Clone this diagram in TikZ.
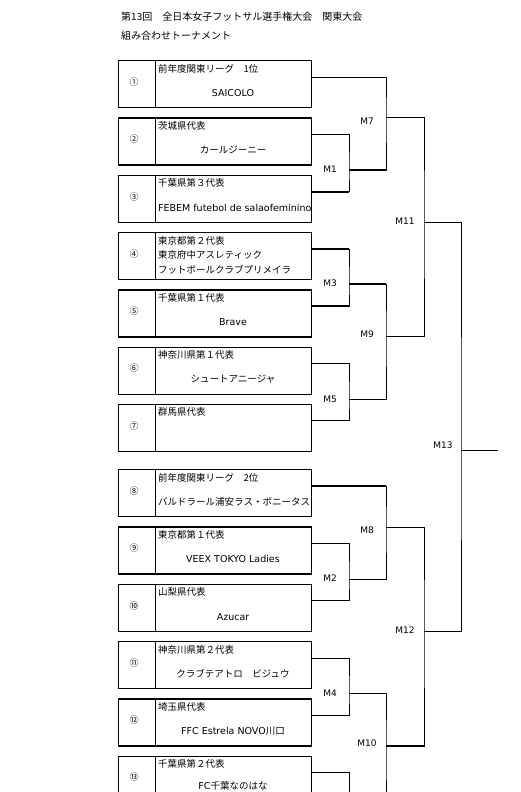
\documentclass[tikz,border=0pt]{standalone}
\usepackage{fontspec}
\setmainfont{Noto Sans CJK JP}
\newfontfamily\latinfont{DejaVu Sans}
\begin{document}
\begin{tikzpicture}[x=1pt,y=-1pt,
        teambox/.style={draw,line width=1.4pt,minimum width=193pt,minimum height=47pt,anchor=north west,inner sep=0pt},
        bracket/.style={line width=0.8pt},
        winline/.style={line width=1.8pt},
        numtext/.style={inner sep=0pt,font=\fontsize{9}{9}\selectfont},
        labtext/.style={anchor=west,inner sep=0pt,font=\fontsize{9.5}{9.5}\selectfont},
        teamtext/.style={inner sep=0pt,font=\fontsize{9.5}{9.5}\selectfont},
        mlabel/.style={inner sep=0pt,font=\fontsize{9}{9}\latinfont}]
    \useasboundingbox (0,0) rectangle (521,792);
    \node[labtext,font=\fontsize{10}{10}\selectfont] (title) at (121,17) {第13回　全日本女子フットサル選手権大会　関東大会};
    \node[labtext,font=\fontsize{10}{10}\selectfont] (subtitle) at (121,36) {組み合わせトーナメント};
    \foreach \i/\y/\num/\lab in {1/60/①/前年度関東リーグ　1位, 2/117.3/②/茨城県代表,
            3/174.6/③/千葉県第３代表, 4/231.9/④/東京都第２代表, 5/289.2/⑤/千葉県第１代表,
            6/346.5/⑥/神奈川県第１代表, 7/403.8/⑦/群馬県代表, 8/469/⑧/前年度関東リーグ　2位,
            9/526.3/⑨/東京都第１代表, 10/583.6/⑩/山梨県代表, 11/640.9/⑪/神奈川県第２代表,
            12/698.2/⑫/埼玉県代表, 13/755.5/⑬/千葉県第２代表} {
        \node[teambox] (b\i) at (118,\y) {};
        \draw[bracket] (155,\y) -- (155,\y+47);
        \node[numtext] (n\i) at (134,\y+22) {\num};
        \node[labtext] (l\i) at (158,\y+8.5) {\lab};
        \coordinate (o\i) at (311,\y+17);
    }
    \node[teamtext] (t1) at (233,93) {\latinfont SAICOLO};
    \node[teamtext] (t2) at (233,150.3) {カールジーニー};
    \begin{scope}
        \clip (156,175) rectangle (310,221);
        \node[labtext] (t3) at (158,207.6) {\latinfont FEBEM futebol de salaofeminino};
    \end{scope}
    \node[labtext] (t4a) at (158,255) {東京府中アスレティック};
    \node[labtext] (t4b) at (158,270) {フットボールクラブプリメイラ};
    \node[teamtext] (t5) at (233,322.2) {\latinfont Brave};
    \node[teamtext] (t6) at (233,379.5) {シュートアニージャ};
    \node[labtext] (t8) at (158,502) {バルドラール浦安ラス・ボニータス};
    \node[teamtext] (t9) at (233,559.3) {\latinfont VEEX TOKYO Ladies};
    \node[teamtext] (t10) at (233,616.6) {\latinfont Azucar};
    \node[teamtext] (t11) at (233,673.9) {クラブテアトロ　ビジュウ};
    \node[teamtext] (t12) at (233,731.2) {{\latinfont FFC Estrela NOVO}川口};
    \node[teamtext] (t13) at (233,785.5) {{\latinfont FC}千葉なのはな};

    \coordinate (m1) at (349,170);
    \coordinate (m3) at (349,284);
    \coordinate (m5) at (349,399);
    \coordinate (m2) at (349,579);
    \coordinate (m4) at (349,693);
    \coordinate (m6) at (349,815);
    \coordinate (m7) at (386,117);
    \coordinate (m9) at (386,336);
    \coordinate (m8) at (386,527);
    \coordinate (m10) at (386,746);
    \coordinate (m11) at (424,222);
    \coordinate (m12) at (424,631);
    \coordinate (m13) at (461,450);
    \coordinate (final) at (498,450);

    \draw[bracket] (o2) -| (m1) |- (o3);
    \draw[bracket] (o4) -| (m3) |- (o5);
    \draw[bracket] (o6) -| (m5) |- (o7);
    \draw[bracket] (o9) -| (m2) |- (o10);
    \draw[bracket] (o11) -| (m4) |- (o12);
    \draw[bracket] (o13) -| (m6);
    \draw[bracket] (o1) -| (m7) |- (m1);
    \draw[bracket] (m3) -| (m9) |- (m5);
    \draw[bracket] (o8) -| (m8) |- (m2);
    \draw[bracket] (m4) -| (m10) |- (m6);
    \draw[bracket] (m7) -| (m11) |- (m9);
    \draw[bracket] (m8) -| (m12) |- (m10);
    \draw[bracket] (m11) -| (m13) |- (m12);
    \draw[bracket] (m13) -- (final);
    \draw[winline] (o3) -- (o3 -| m1);
    \draw[winline] (o4) -- (o4 -| m3);
    \draw[winline] (o5) -- (o5 -| m3);
    \draw[winline] (m1) -- (m1 -| m7);
    \draw[winline] (m3) -- (m3 -| m9);
    \draw[winline] (o8) -- (o8 -| m8);
    \draw[winline] (m10) -- (m10 -| m12);

    \node[mlabel] (lm1) at (330,169) {M1};
    \node[mlabel] (lm3) at (330,283) {M3};
    \node[mlabel] (lm5) at (330,399) {M5};
    \node[mlabel] (lm2) at (330,578) {M2};
    \node[mlabel] (lm4) at (330,693) {M4};
    \node[mlabel] (lm7) at (367,121) {M7};
    \node[mlabel] (lm9) at (367,334) {M9};
    \node[mlabel] (lm8) at (367,530) {M8};
    \node[mlabel] (lm10) at (367,743) {M10};
    \node[mlabel] (lm11) at (405,221) {M11};
    \node[mlabel] (lm12) at (405,630) {M12};
    \node[mlabel] (lm13) at (443,445) {M13};
\end{tikzpicture}
\end{document}
